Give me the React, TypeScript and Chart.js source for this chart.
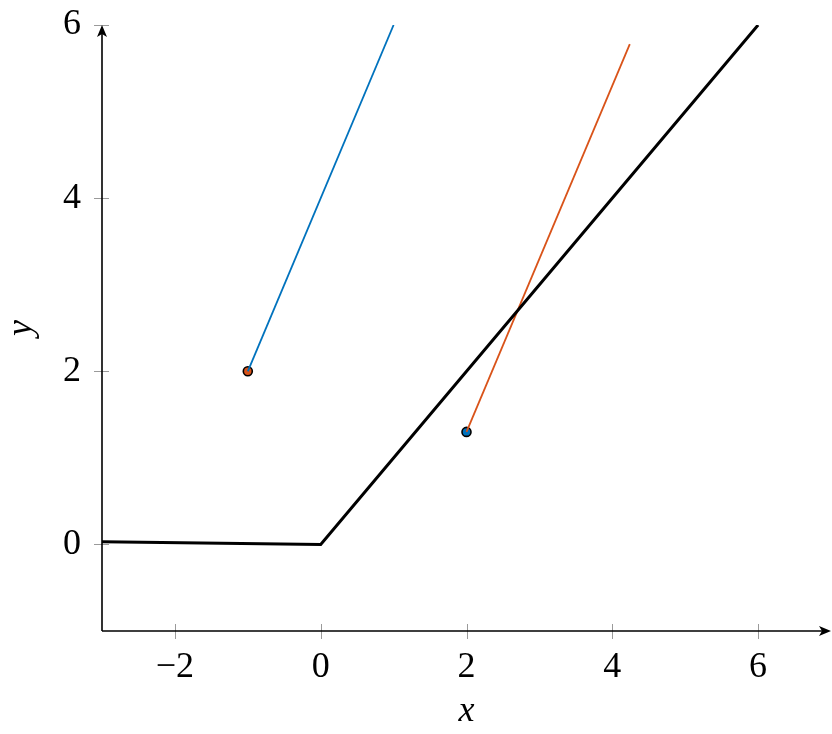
import React, { useEffect, useRef } from "react";
import { Chart, registerables } from "chart.js";

Chart.register(...registerables);

// Data
const reluX = [-3, 0, 6];
const reluY = [0.03, 0, 6];
const blueLineX = [-1, 1];
const blueLineY = [2, 6];
const orangeLineX = [2, 4.24];
const orangeLineY = [1.3, 5.78];
const orangePointX = [-1];
const orangePointY = [2];
const bluePointX = [2];
const bluePointY = [1.3];
const xTicks = [-2, 0, 2, 4, 6];
const yTicks = [0, 2, 4, 6];

const BLUE = "#0072BD";
const ORANGE = "#D95319";
const FONT = "'Liberation Serif', 'DejaVu Serif', serif";

const zip = (xs: number[], ys: number[]) => xs.map((x, i) => ({ x, y: ys[i] }));
const fmt = (v: number) => (v < 0 ? "\u2212" + Math.abs(v) : String(v));

const axesPlugin = {
  id: "axesArrows",
  afterDatasetsDraw(chart: any) {
    const { ctx, chartArea, scales } = chart;
    const { left, right, top, bottom } = chartArea;
    const xs = scales.x;
    const ys = scales.y;
    ctx.save();
    ctx.strokeStyle = "#9a9a9a";
    ctx.lineWidth = 1;
    ctx.beginPath();
    xs.ticks.forEach((t: any) => {
      const px = Math.round(xs.getPixelForValue(t.value)) + 0.5;
      ctx.moveTo(px, bottom - 7);
      ctx.lineTo(px, bottom + 8);
    });
    ys.ticks.forEach((t: any) => {
      const py = Math.round(ys.getPixelForValue(t.value)) + 0.5;
      ctx.moveTo(left - 8, py);
      ctx.lineTo(left + 7, py);
    });
    ctx.stroke();

    ctx.strokeStyle = "#000";
    ctx.lineWidth = 1.6;
    ctx.beginPath();
    ctx.moveTo(left, bottom);
    ctx.lineTo(right - 4, bottom);
    ctx.moveTo(left, bottom);
    ctx.lineTo(left, top + 4);
    ctx.stroke();

    ctx.fillStyle = "#000";
    // x arrow
    ctx.beginPath();
    ctx.moveTo(right, bottom);
    ctx.lineTo(right - 12, bottom - 5);
    ctx.lineTo(right - 9, bottom);
    ctx.lineTo(right - 12, bottom + 5);
    ctx.closePath();
    ctx.fill();
    // y arrow
    ctx.beginPath();
    ctx.moveTo(left, top);
    ctx.lineTo(left - 5, top + 12);
    ctx.lineTo(left, top + 9);
    ctx.lineTo(left + 5, top + 12);
    ctx.closePath();
    ctx.fill();
    ctx.restore();
  },
};

export default function App() {
  const ref = useRef<HTMLCanvasElement | null>(null);
  useEffect(() => {
    document.body.style.margin = "0";
    const canvas = ref.current;
    if (!canvas) return;
    const chart = new Chart(canvas, {
      type: "scatter",
      data: {
        datasets: [
          {
            data: zip(reluX, reluY),
            showLine: true,
            borderColor: "#000",
            borderWidth: 3,
            pointRadius: 0,
            fill: false,
          },
          {
            data: zip(blueLineX, blueLineY),
            showLine: true,
            borderColor: BLUE,
            borderWidth: 1.8,
            pointRadius: 0,
          },
          {
            data: zip(orangeLineX, orangeLineY),
            showLine: true,
            borderColor: ORANGE,
            borderWidth: 1.8,
            pointRadius: 0,
          },
          {
            data: zip(orangePointX, orangePointY),
            showLine: false,
            backgroundColor: ORANGE,
            borderColor: "#000",
            borderWidth: 1.6,
            pointRadius: 4.5,
          },
          {
            data: zip(bluePointX, bluePointY),
            showLine: false,
            backgroundColor: BLUE,
            borderColor: "#000",
            borderWidth: 1.6,
            pointRadius: 4.5,
          },
        ] as any,
      },
      options: {
        animation: false,
        responsive: false,
        devicePixelRatio: 1,
        layout: { autoPadding: false, padding: { top: 25, right: 1, left: 0, bottom: 0 } },
        plugins: { legend: { display: false }, tooltip: { enabled: false } },
        scales: {
          x: {
            type: "linear",
            min: -3,
            max: 7,
            border: { display: false },
            grid: { display: false, drawTicks: false },
            afterBuildTicks: (s: any) => {
              s.ticks = xTicks.map((v) => ({ value: v }));
            },
            afterFit: (s: any) => {
              s.height = 103;
              s.paddingLeft = 0;
              s.paddingRight = 0;
            },
            ticks: {
              padding: 15,
              color: "#000",
              font: { family: FONT, size: 36 },
              callback: (v: any) => fmt(Number(v)),
            },
            title: {
              display: true,
              text: "x",
              color: "#000",
              font: { family: FONT, size: 36, style: "italic" },
              padding: { top: 0, bottom: 1 },
            },
          },
          y: {
            type: "linear",
            min: -1,
            max: 6,
            border: { display: false },
            grid: { display: false, drawTicks: false },
            afterBuildTicks: (s: any) => {
              s.ticks = yTicks.map((v) => ({ value: v }));
            },
            afterFit: (s: any) => {
              s.width = 102;
              s.paddingTop = 0;
              s.paddingBottom = 0;
            },
            ticks: {
              padding: 21,
              color: "#000",
              font: { family: FONT, size: 36 },
              callback: (v: any) => fmt(Number(v)),
            },
            title: {
              display: true,
              text: "y",
              color: "#000",
              font: { family: FONT, size: 36, style: "italic" },
              padding: { top: 0, bottom: 0 },
            },
          },
        },
      } as any,
      plugins: [axesPlugin],
    });
    return () => chart.destroy();
  }, []);
  return <canvas ref={ref} width={832} height={734} style={{ display: "block" }} />;
}
